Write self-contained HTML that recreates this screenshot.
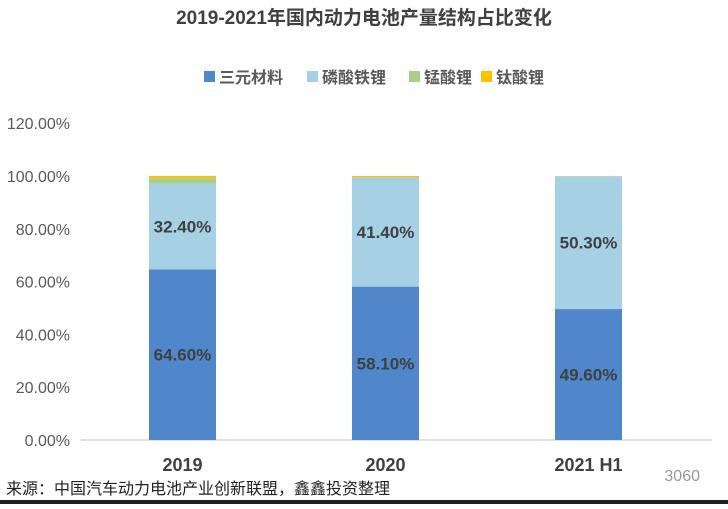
<!DOCTYPE html>
<html><head><meta charset="utf-8"><style>
body{margin:0;width:728px;height:504px;background:#fff;overflow:hidden;font-family:"Liberation Sans","Noto Sans CJK SC",sans-serif;}
svg text{font-family:"Liberation Sans","Noto Sans CJK SC",sans-serif;}
</style></head><body>
<svg id="c" width="728" height="504">
<text x="364" y="24" text-anchor="middle" font-size="19" font-weight="bold" fill="#404040">2019-2021年国内动力电池产量结构占比变化</text>
<g id="legend"></g>
<g id="grid"></g><g id="bars"></g>
<text x="6" y="494" font-size="16" fill="#222">来源：中国汽车动力电池产业创新联盟，鑫鑫投资整理</text>
<text x="700" y="481" text-anchor="end" font-size="16" fill="#999">3060</text>
<rect x="0" y="500" width="728" height="4" fill="#222"/>
</svg>
<script>
const categories=["2019","2020","2021 H1"];
const seriesNames=["三元材料","磷酸铁锂","锰酸锂","钛酸锂"];
const ternary=[64.6,58.1,49.6];
const lfp=[32.4,41.4,50.3];
const lmo=[2.2,0,0];
const lto=[0.8,0.5,0.1];
const ticks=[0,20,40,60,80,100,120];
const colors=["#5087ca","#a6d0e3","#a8d08d","#ffc000"];
const NS="http://www.w3.org/2000/svg";
const svg=document.getElementById('c');
const y0=440,pxPer=2.64,x0=81,x1=712,band=203,bw=67;
const y=v=>y0-v*pxPer;
const xc=i=>x0+band*i+band/2;
function mk(t,a,p){const e=document.createElementNS(NS,t);for(const k in a)e.setAttribute(k,a[k]);p.appendChild(e);return e;}
const grid=document.getElementById('grid');
ticks.forEach(t=>{
 const tx=mk('text',{x:70,y:y(t)+6,'text-anchor':'end','font-size':16,fill:'#595959'},grid);
 tx.textContent=t.toFixed(2)+'%';
 
 
});
const ax=mk('line',{x1:x0,x2:x1,y1:y0,y2:y0,stroke:'#d9d9d9','stroke-width':1.5},grid);


const series=[ternary,lfp,lmo,lto];
const bars=document.getElementById('bars');
categories.forEach((c,i)=>{
 let acc=0;
 series.forEach((s,k)=>{
  const v=s[i];if(v<=0)return;
  const r=mk('rect',{x:xc(i)-bw/2,y:y(acc+v),width:bw,height:v*pxPer,fill:colors[k]},bars);
  
  
  if(k<2){
   const t=mk('text',{x:xc(i),y:y(acc+v/2)+6,'text-anchor':'middle','font-size':17,'font-weight':'bold',fill:'#404040'},bars);
   t.textContent=v.toFixed(2)+'%';
   
   
  }
  acc+=v;
 });
 const t=mk('text',{x:xc(i),y:471,'text-anchor':'middle','font-size':18,'font-weight':'bold',fill:'#404040'},bars);
 t.textContent=c;
 
 
});
const lg=document.getElementById('legend');
const lx=[204,307,409,481];
seriesNames.forEach((n,k)=>{
 const r=mk('rect',{x:lx[k],y:71,width:11,height:11,fill:colors[k]},lg);
 
 
 const t=mk('text',{x:lx[k]+15,y:83,'font-size':16,'font-weight':'bold',fill:'#595959'},lg);
 t.textContent=n;
 
 
});
</script>
</body></html>
